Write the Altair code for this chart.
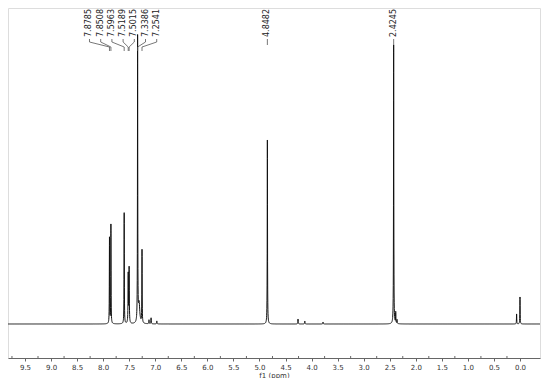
import numpy as np
import pandas as pd
import altair as alt

# ---- spectrum peaks (chemical shift in ppm, relative intensity, half-width ppm) ----
peak_ppm = [7.8785, 7.8508, 7.5963, 7.5189, 7.5015, 7.3386, 7.31, 7.2541,
            7.12, 7.08, 6.97, 4.8482, 4.26, 4.13, 3.78, 2.4245, 2.385, 2.36,
            0.065, 0.0]
peak_height = [86, 99, 111, 49, 55, 285, 20, 73,
               4, 6, 3, 184, 5, 3, 2, 279, 11, 4,
               10, 27]
peak_width = [0.003, 0.003, 0.003, 0.004, 0.004, 0.003, 0.015, 0.003,
              0.004, 0.004, 0.004, 0.003, 0.004, 0.004, 0.004, 0.003, 0.003, 0.003,
              0.003, 0.003]

# ---- peak labels ----
group_labels = ["7.8785", "7.8508", "7.5963", "7.5189", "7.5015", "7.3386", "7.2541"]
single_labels = ["4.8482", "2.4245"]

# ---- axis ticks ----
major_ticks = [float(round(v, 1)) for v in np.arange(0.0, 9.51, 0.5)]
minor_ticks = [float(round(v, 2)) for v in np.arange(0.25, 9.76, 0.5)]

# layout constants
X_MIN, X_MAX = -0.384, 9.826
Y_MIN, Y_MAX = -34, 316
GROUP_CENTER = 7.617
GROUP_SPACING = 0.215
LABEL_TOP = 315
CONN = [285, 282, 277, 273]

# build spectrum line from peak list (sum of Lorentzians)
grid = np.concatenate([np.arange(X_MIN, X_MAX, 0.002),
                       np.array(peak_ppm),
                       np.array(peak_ppm) + 0.001,
                       np.array(peak_ppm) - 0.001])
grid = np.unique(grid)[::-1]
inten = np.zeros_like(grid)
for p, h, w in zip(peak_ppm, peak_height, peak_width):
    inten += h * w**2 / ((grid - p) ** 2 + w**2)
spec = pd.DataFrame({"ppm": grid, "intensity": inten, "i": np.arange(len(grid))})

# labels and connector lines
n = len(group_labels)
lab_rows = []
conn_rows = []
for k, lab in enumerate(group_labels):
    lx = GROUP_CENTER + (n - 1) / 2 * GROUP_SPACING - k * GROUP_SPACING
    px = float(lab)
    lab_rows.append({"ppm": lx, "intensity": LABEL_TOP, "label": lab})
    pts = [(lx, CONN[0]), (lx, CONN[1]), (px, CONN[2]), (px, CONN[3])]
    for s, (xx, yy) in enumerate(pts):
        conn_rows.append({"ppm": xx, "intensity": yy, "label": lab, "seq": s})
for lab in single_labels:
    px = float(lab)
    lab_rows.append({"ppm": px, "intensity": LABEL_TOP, "label": lab})
    for s, yy in enumerate([CONN[0], CONN[0] - 6]):
        conn_rows.append({"ppm": px, "intensity": yy, "label": lab, "seq": s})
labs = pd.DataFrame(lab_rows)
conns = pd.DataFrame(conn_rows)
minor = pd.DataFrame({"ppm": minor_ticks, "y0": Y_MIN, "y1": Y_MIN + 2})

xscale = alt.Scale(domain=[X_MIN, X_MAX], reverse=True, nice=False, zero=False)
yscale = alt.Scale(domain=[Y_MIN, Y_MAX], nice=False, zero=False)

xaxis = alt.Axis(values=major_ticks, title="f1 (ppm)", format=".1f",
                 grid=False, domainColor="#666", tickColor="#666", tickSize=3,
                 labelFont="DejaVu Sans", labelFontSize=7, labelColor="#333",
                 labelPadding=2, titleFont="DejaVu Sans", titleFontSize=7,
                 titleFontWeight="normal", titleColor="#333", titlePadding=1,
                 labelFlush=False, labelOverlap=False)

X = alt.X("ppm:Q", scale=xscale, axis=xaxis)

line = alt.Chart(spec).mark_line(color="#111", strokeWidth=1, clip=True).encode(
    x=X,
    y=alt.Y("intensity:Q", scale=yscale, axis=None),
    order="i:Q",
)

minor_rules = alt.Chart(minor).mark_rule(color="#666", strokeWidth=1).encode(
    x=X,
    y=alt.Y("y0:Q", scale=yscale, axis=None),
    y2="y1:Q",
)

conn = alt.Chart(conns).mark_line(color="#555", strokeWidth=0.8).encode(
    x=X,
    y=alt.Y("intensity:Q", scale=yscale, axis=None),
    detail="label:N",
    order="seq:Q",
)

text = alt.Chart(labs).mark_text(angle=270, align="right", baseline="middle",
                                 font="DejaVu Sans", fontSize=8, color="#222").encode(
    x=X,
    y=alt.Y("intensity:Q", scale=yscale, axis=None),
    text="label:N",
)

chart = alt.layer(line, minor_rules, conn, text).properties(
    width=532, height=350,
    padding={"left": 0, "top": 0, "right": 2, "bottom": 0},
).configure_view(stroke=None).configure_axis(labelOverlap=False).configure(background="white")

chart.save("out.html", embed_options={"renderer": "svg", "actions": False})
